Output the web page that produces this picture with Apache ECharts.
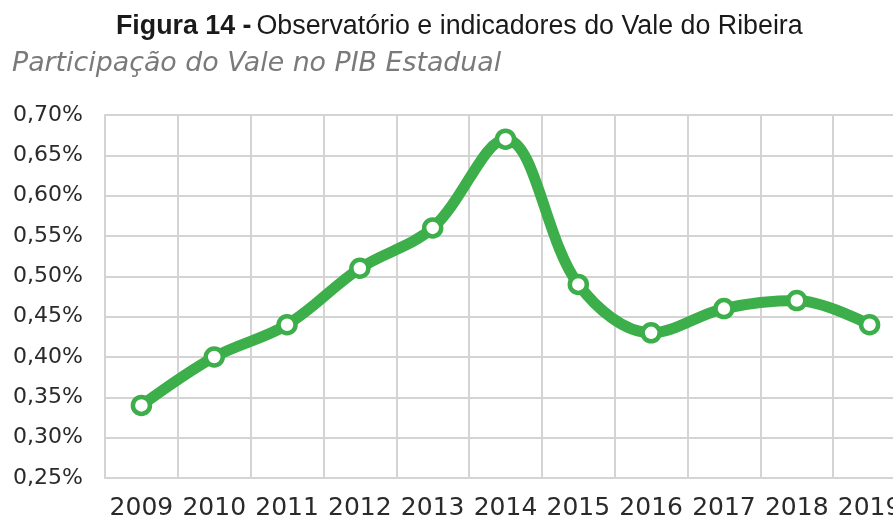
<!DOCTYPE html>
<html><head><meta charset="utf-8">
<script src="https://cdn.jsdelivr.net/npm/echarts@6/dist/echarts.min.js"></script>
<style>html,body{margin:0;padding:0;background:#fff}#c{width:893px;height:521px}</style>
</head><body><div id="c"></div>
<script>
const years = ['2009','2010','2011','2012','2013','2014','2015','2016','2017','2018','2019'];
const share = [0.34,0.40,0.44,0.51,0.56,0.67,0.49,0.43,0.46,0.47,0.44];
const yMin = 0.25, yMax = 0.70, yStep = 0.05;

const chart = echarts.init(document.getElementById('c'), null, {renderer:'canvas'});
chart.setOption({
  animation:false,
  backgroundColor:'#fff',
  title:[{
    text:'{b|Figura 14 -} {n|Observatório e indicadores do Vale do Ribeira}',
    left:111, top:8,
    textStyle:{fontWeight:'normal',rich:{
      b:{fontFamily:'Liberation Sans',fontWeight:'bold',fontSize:26.8,color:'#1a1a1a'},
      n:{fontFamily:'Liberation Sans',fontWeight:'normal',fontSize:26.8,color:'#1a1a1a'}
    }}
  },{
    text:'Participação do Vale no PIB Estadual',
    left:7, top:46,
    textStyle:{fontFamily:'DejaVu Sans',fontStyle:'italic',fontWeight:'normal',fontSize:26.8,color:'#7a7a7a'}
  }],
  grid:{left:105, width:801, top:115, bottom:43, containLabel:false, outerBoundsMode:'none'},
  xAxis:{
    type:'category', data:years, boundaryGap:true,
    axisLine:{show:true,lineStyle:{color:'#d4d4d4',width:2}},
    axisTick:{show:false},
    splitLine:{show:true,lineStyle:{color:'#d4d4d4',width:2}},
    axisLabel:{fontFamily:'DejaVu Sans',fontSize:25,color:'#2a2a2a',margin:18,interval:0,hideOverlap:false}
  },
  yAxis:{
    type:'value', min:yMin, max:yMax, interval:yStep,
    axisLine:{show:true,lineStyle:{color:'#d4d4d4',width:2}},
    axisTick:{show:false},
    splitLine:{show:true,lineStyle:{color:'#d4d4d4',width:2}},
    axisLabel:{fontFamily:'DejaVu Sans',fontSize:22,color:'#2a2a2a',margin:22,
      formatter:v=>v.toFixed(2).replace('.',',')+'%'}
  },
  series:[{
    type:'line', data:share, smooth:0.35,
    lineStyle:{color:'#3cae4a',width:11},
    symbol:'circle', symbolSize:17,
    itemStyle:{color:'#fff',borderColor:'#3cae4a',borderWidth:4.5},
    z:5
  }]
});
</script></body></html>
